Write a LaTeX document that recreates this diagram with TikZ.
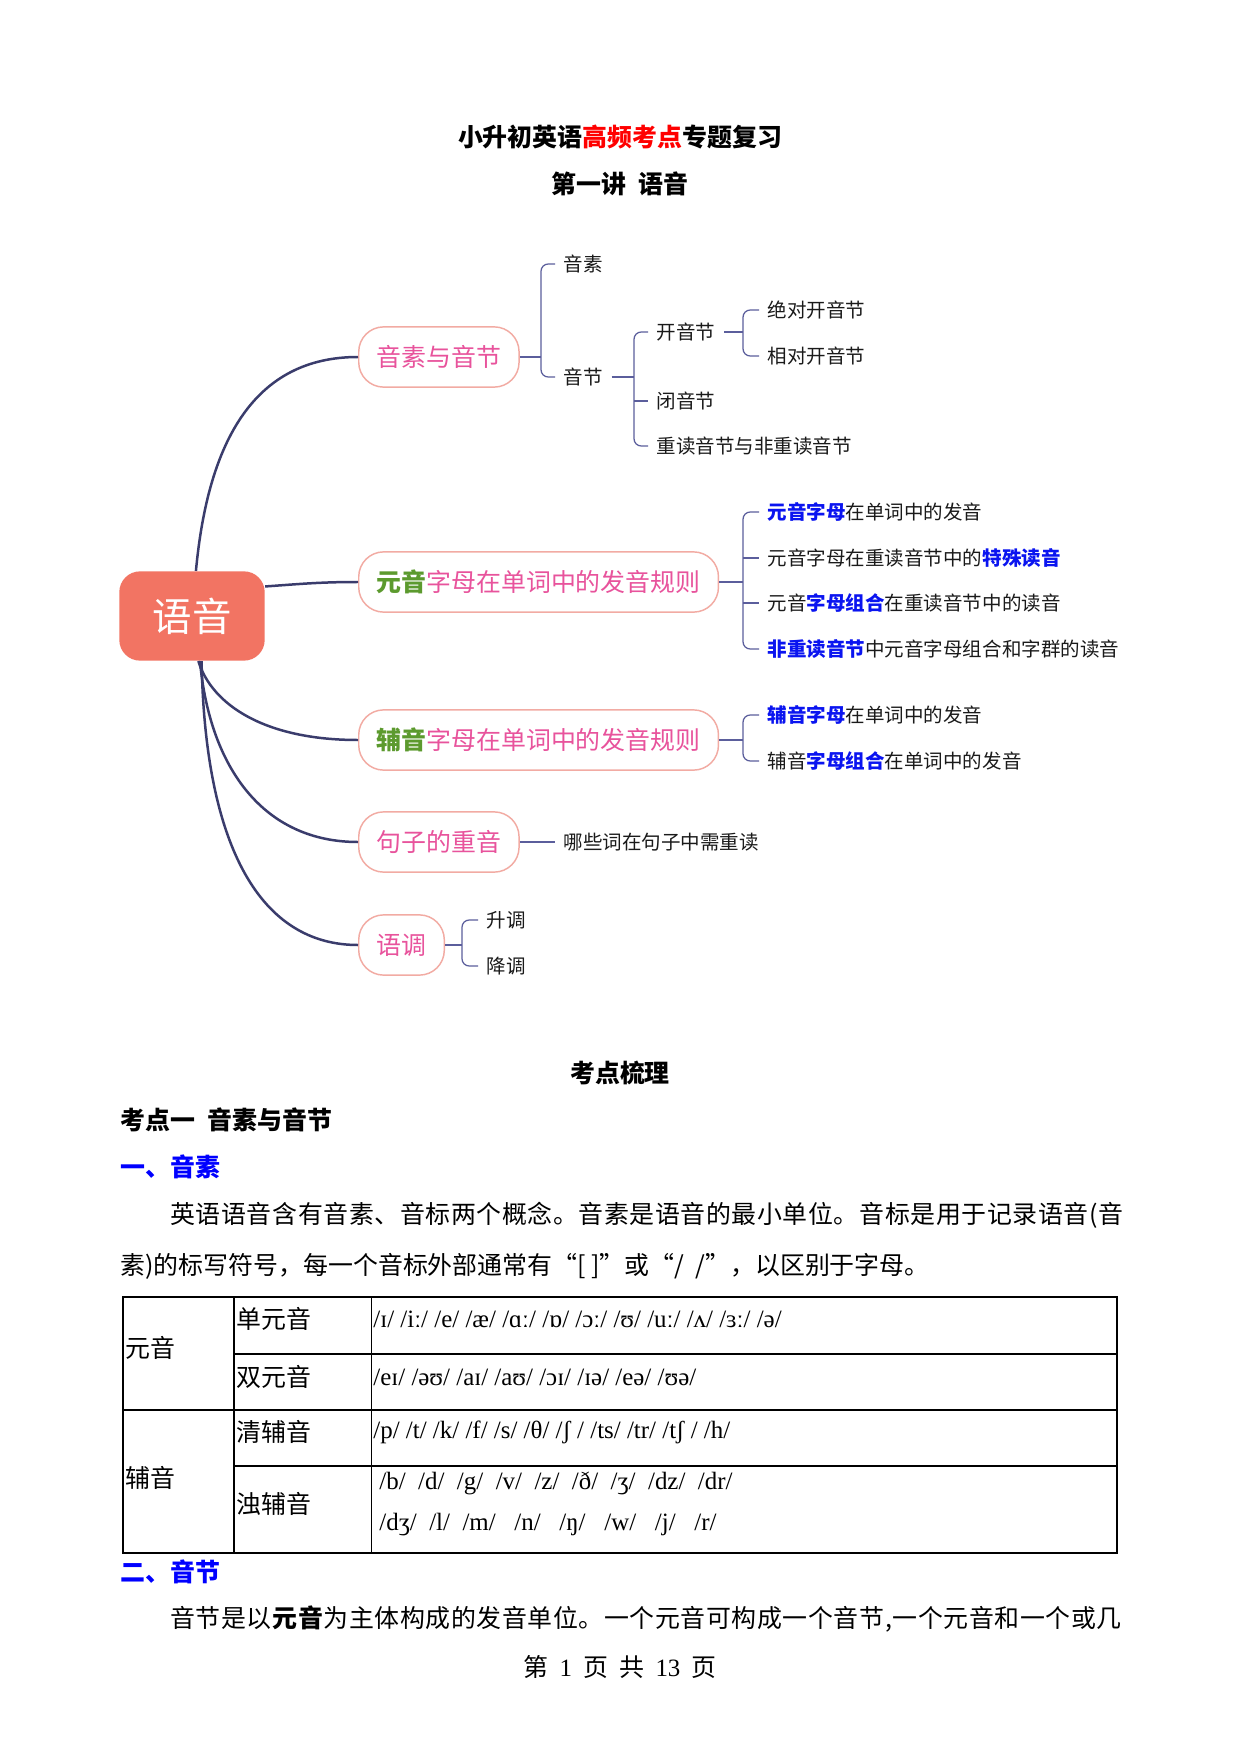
\documentclass[tikz,border=0pt]{standalone}
\usepackage{fontspec}
\setmainfont{Noto Sans CJK SC}
\newfontfamily\ipafont{Liberation Serif}
\usepackage{xcolor}
\definecolor{mapRoot}{HTML}{F27463}
\definecolor{mapEdge}{HTML}{F2ABA3}
\definecolor{mapPink}{HTML}{E8539C}
\definecolor{mapGreen}{HTML}{5C9A2E}
\definecolor{mapBlue}{HTML}{0A14F0}
\definecolor{mapInk}{HTML}{1A1A1A}
\definecolor{mapLimb}{HTML}{3A3C6C}
\definecolor{mapTwig}{HTML}{5B5E9C}
\definecolor{titleRed}{HTML}{FF0000}
\definecolor{headBlue}{HTML}{0000FF}

\begin{document}
\begin{tikzpicture}[
  x=0.16922mm, y=-0.16922mm,
  hub/.style={rounded corners=10pt, fill=mapRoot, text=white, minimum width=70pt,
    minimum height=43pt, font=\fontsize{19}{22}\selectfont},
  topic/.style={rounded corners=12pt, draw=mapEdge, line width=.7pt, fill=white,
    text=mapPink, minimum height=29pt, inner xsep=8.6pt, anchor=west,
    font=\fontsize{12}{14}\selectfont},
  leaf/.style={anchor=west, inner xsep=4pt, inner ysep=1pt, text=mapInk,
    font=\fontsize{9.4}{11}\selectfont},
  limb/.style={line width=1.2pt, draw=mapLimb},
  twig/.style={line width=.6pt, draw=mapTwig, rounded corners=3.5pt},
  head/.style={anchor=west, inner sep=0pt, font=\fontsize{12}{14}\selectfont\bfseries},
  body/.style={anchor=west, inner sep=0pt, font=\fontsize{12}{14}\selectfont},
  wide/.style={body, font=\fontsize{12}{14}\selectfont\addfontfeatures{LetterSpace=2.4}},
  ipa/.style={anchor=west, inner sep=0pt, font=\fontsize{12}{14}\selectfont\ipafont},
  rule/.style={line width=.5pt, draw=black}
]
  \useasboundingbox[fill=white] (0,0) rectangle (1241,1754);

  % titles
  \node[head,anchor=center] (ttl) at (620,137) {小升初英语\textcolor{titleRed}{高频考点}专题复习};
  \node[head,anchor=center] (sub) at (620,184) {第一讲\hspace{0.5em}语音};

  % mind map
  \node[hub] (root) at (192,616) {语音};
  \node[topic] (b1) at (358,357) {音素与音节};
  \node[topic] (b2) at (358,582) {\textcolor{mapGreen}{\bfseries 元音}字母在单词中的发音规则};
  \node[topic] (b3) at (358,740) {\textcolor{mapGreen}{\bfseries 辅音}字母在单词中的发音规则};
  \node[topic] (b4) at (358,842) {句子的重音};
  \node[topic] (b5) at (358,945) {语调};

  \draw[limb] (root.85) .. controls (208,440) and (255,357) .. (b1.west);
  \draw[limb] (root.22) .. controls (300,584) and (320,582) .. (b2.west);
  \draw[limb] (root.-82) .. controls (212,705) and (265,740) .. (b3.west);
  \draw[limb] (root.-80) .. controls (210,770) and (265,842) .. (b4.west);
  \draw[limb] (root.-78) .. controls (205,850) and (262,945) .. (b5.west);

  \coordinate (sp1) at (541,0);
  \coordinate (sp2) at (634,0);
  \coordinate (sp3) at (743,0);
  \coordinate (sp4) at (743,0);
  \coordinate (sp5) at (743,0);
  \coordinate (sp6) at (462,0);

  \node[leaf] (c11) at (555,264) {音素};
  \node[leaf] (c12) at (555,377) {音节};
  \node[leaf] (c21) at (648,332) {开音节};
  \node[leaf] (c22) at (648,401) {闭音节};
  \node[leaf] (c23) at (648,446) {重读音节与非重读音节};
  \node[leaf] (c31) at (759,310) {绝对开音节};
  \node[leaf] (c32) at (759,356) {相对开音节};

  \node[leaf] (d1) at (759,512) {\textcolor{mapBlue}{\bfseries 元音字母}在单词中的发音};
  \node[leaf] (d2) at (759,558) {元音字母在重读音节中的\textcolor{mapBlue}{\bfseries 特殊读音}};
  \node[leaf] (d3) at (759,603) {元音\textcolor{mapBlue}{\bfseries 字母组合}在重读音节中的读音};
  \node[leaf] (d4) at (759,649) {\textcolor{mapBlue}{\bfseries 非重读音节}中元音字母组合和字群的读音};

  \node[leaf] (e1) at (759,715) {\textcolor{mapBlue}{\bfseries 辅音字母}在单词中的发音};
  \node[leaf] (e2) at (759,761) {辅音\textcolor{mapBlue}{\bfseries 字母组合}在单词中的发音};

  \node[leaf] (f1) at (555,842) {哪些词在句子中需重读};

  \node[leaf] (g1) at (478,920) {升调};
  \node[leaf] (g2) at (478,966) {降调};

  \draw[twig] (b1.east) -- (b1.east -| sp1);
  \draw[twig] (c11.west) -- (c11.west -| sp1) -- (c12.west -| sp1) -- (c12.west);

  \draw[twig] (c12.east) -- (c12.east -| sp2);
  \draw[twig] (c21.west) -- (c21.west -| sp2) -- (c23.west -| sp2) -- (c23.west);
  \draw[twig] (c22.west -| sp2) -- (c22.west);

  \draw[twig] (c21.east) -- (c21.east -| sp3);
  \draw[twig] (c31.west) -- (c31.west -| sp3) -- (c32.west -| sp3) -- (c32.west);

  \draw[twig] (b2.east) -- (b2.east -| sp4);
  \draw[twig] (d1.west) -- (d1.west -| sp4) -- (d4.west -| sp4) -- (d4.west);
  \draw[twig] (d2.west -| sp4) -- (d2.west);
  \draw[twig] (d3.west -| sp4) -- (d3.west);

  \draw[twig] (b3.east) -- (b3.east -| sp5);
  \draw[twig] (e1.west) -- (e1.west -| sp5) -- (e2.west -| sp5) -- (e2.west);

  \draw[twig] (b4.east) -- (f1.west);

  \draw[twig] (b5.east) -- (b5.east -| sp6);
  \draw[twig] (g1.west) -- (g1.west -| sp6) -- (g2.west -| sp6) -- (g2.west);

  % text below
  \node[head,anchor=center] (kdsl) at (620,1073) {考点梳理};
  \node[head] (kd1) at (120,1120) {考点一\hspace{0.5em}音素与音节};
  \node[head,text=headBlue] (h1) at (120,1167) {一、音素};
  \node[wide] (p1) at (170,1215) {英语语音含有音素、音标两个概念。音素是语音的最小单位。音标是用于记录语音(音};
  \node[body] (p2) at (120,1266) {素)的标写符号，每一个音标外部通常有“[ ]”或“/\ \ /”，以区别于字母。};

  % table
  \draw[rule,line width=.8pt] (123,1297) rectangle (1117,1553);
  \draw[rule] (234,1297) -- (234,1553);
  \draw[rule] (371.5,1297) -- (371.5,1553);
  \draw[rule] (234,1354) -- (1117,1354);
  \draw[rule,line width=.8pt] (123,1410) -- (1117,1410);
  \draw[rule] (234,1466) -- (1117,1466);

  \node[body] (t1) at (125,1348) {元音};
  \node[body] (t2) at (125,1478) {辅音};
  \node[body] (t11) at (236,1319) {单元音};
  \node[body] (t12) at (236,1377) {双元音};
  \node[body] (t21) at (236,1432) {清辅音};
  \node[body] (t22) at (236,1504) {浊辅音};
  \node[ipa] (s1) at (373,1319) {/ɪ/ /iː/ /e/ /æ/ /ɑː/ /ɒ/ /ɔː/ /ʊ/ /uː/ /ʌ/ /ɜː/ /ə/};
  \node[ipa] (s2) at (373,1377) {/eɪ/ /əʊ/ /aɪ/ /aʊ/ /ɔɪ/ /ɪə/ /eə/ /ʊə/};
  \node[ipa] (s3) at (373,1432) {/p/ /t/ /k/ /f/ /s/ /θ/ /ʃ / /ts/ /tr/ /tʃ / /h/};
  \node[ipa] (s4) at (379,1483) {/b/\ \ /d/\ \ /g/\ \ /v/\ \ /z/\ \ /ð/\ \ /ʒ/\ \ /dz/\ \ /dr/};
  \node[ipa] (s5) at (379,1525) {/dʒ/\ \ /l/\ \ /m/\ \ \ /n/\ \ \ /ŋ/\ \ \ /w/\ \ \ /j/\ \ \ /r/};

  \node[head,text=headBlue] (h2) at (120,1572) {二、音节};
  \node[wide] (p3) at (170,1619) {音节是以\textbf{元音}为主体构成的发音单位。一个元音可构成一个音节,一个元音和一个或几};
  \node[body,anchor=center] (foot) at (620,1667) {第\hspace{0.45em}{\ipafont 1}\hspace{0.45em}页\hspace{0.45em}共\hspace{0.45em}{\ipafont 13}\hspace{0.45em}页};
\end{tikzpicture}
\end{document}
